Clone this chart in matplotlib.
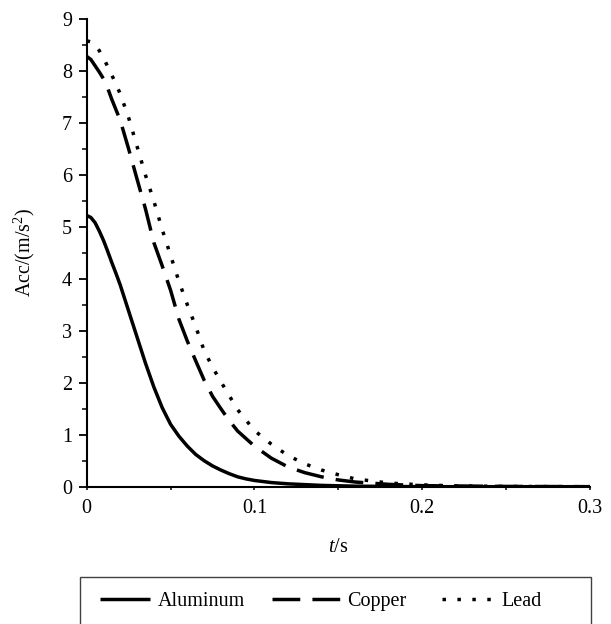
import matplotlib
matplotlib.use("Agg")
import matplotlib.pyplot as plt
from matplotlib.patches import Rectangle
from matplotlib.ticker import MultipleLocator

plt.rcParams["font.family"] = ["Liberation Serif", "DejaVu Serif"]
plt.rcParams["mathtext.fontset"] = "custom"
plt.rcParams["mathtext.rm"] = "Liberation Serif"
plt.rcParams["mathtext.it"] = "Liberation Serif:italic"

# ---- data ----
t_al = [0, 0.0025, 0.005, 0.0075, 0.01, 0.0125, 0.015, 0.0175, 0.02, 0.025,
        0.03, 0.035, 0.04, 0.045, 0.05, 0.055, 0.06, 0.065, 0.07, 0.075,
        0.08, 0.085, 0.09, 0.095, 0.1, 0.11, 0.12, 0.14, 0.16, 0.2, 0.3]
acc_al = [5.22, 5.18, 5.08, 4.92, 4.74, 4.53, 4.31, 4.1, 3.88, 3.38,
          2.88, 2.38, 1.92, 1.52, 1.2, 0.97, 0.78, 0.62, 0.5, 0.4,
          0.32, 0.25, 0.19, 0.15, 0.12, 0.08, 0.055, 0.025, 0.01, 0.0, 0.0]

t_cu = [0, 0.0025, 0.005, 0.0075, 0.01, 0.0125, 0.015, 0.02, 0.025, 0.03,
        0.035, 0.04, 0.045, 0.05, 0.055, 0.06, 0.065, 0.07, 0.075, 0.08,
        0.085, 0.09, 0.1, 0.11, 0.12, 0.13, 0.14, 0.15, 0.16, 0.18, 0.2,
        0.25, 0.3]
acc_cu = [8.28, 8.22, 8.1, 7.98, 7.85, 7.67, 7.45, 7.05, 6.5, 5.92,
          5.35, 4.7, 4.25, 3.78, 3.22, 2.8, 2.42, 2.05, 1.74, 1.5,
          1.27, 1.07, 0.78, 0.55, 0.38, 0.27, 0.19, 0.13, 0.09, 0.045, 0.02,
          0.005, 0.0]

t_pb = [0, 0.0025, 0.005, 0.0075, 0.01, 0.015, 0.02, 0.025, 0.03, 0.035,
        0.04, 0.045, 0.05, 0.055, 0.06, 0.065, 0.07, 0.075, 0.08, 0.09, 0.1,
        0.11, 0.12, 0.13, 0.14, 0.15, 0.16, 0.18, 0.2, 0.22, 0.25, 0.3]
acc_pb = [8.58, 8.56, 8.5, 8.39, 8.25, 7.92, 7.56, 7.1, 6.55, 6.0,
          5.5, 4.95, 4.45, 3.95, 3.5, 3.08, 2.62, 2.3, 2.02, 1.48, 1.08,
          0.82, 0.6, 0.44, 0.32, 0.23, 0.15, 0.07, 0.035, 0.015, 0.005, 0.0]

labels = ["Aluminum", "Copper", "Lead"]
x_ticks = [0, 0.1, 0.2, 0.3]
x_ticklabels = ["0", "0.1", "0.2", "0.3"]

W, H = 611, 624
FS = 14.5

fig = plt.figure(figsize=(W / 100, H / 100), dpi=100)
ax = fig.add_axes([86.7 / W, 1 - 486.7 / H, 503.3 / W, 467.7 / H])

lw = 2.5
styles = ["-", (0, (8, 3.5)), (0, (1, 3.3))]
lines = []
for (t, a), ls, lab in zip([(t_al, acc_al), (t_cu, acc_cu), (t_pb, acc_pb)],
                           styles, labels):
    ln, = ax.plot(t, a, color="black", lw=lw, linestyle=ls,
                  dash_capstyle="butt", solid_capstyle="butt", label=lab)
    lines.append(ln)

ax.set_xlim(0, 0.3)
ax.set_ylim(0, 9)
ax.set_xticks(x_ticks)
ax.set_xticklabels(x_ticklabels)
ax.xaxis.set_minor_locator(MultipleLocator(0.05))
ax.yaxis.set_major_locator(MultipleLocator(1))
ax.yaxis.set_minor_locator(MultipleLocator(0.5))

for s in ["top", "right"]:
    ax.spines[s].set_visible(False)
for s in ["left", "bottom"]:
    ax.spines[s].set_linewidth(1.5)

ax.tick_params(axis="y", which="major", direction="out", length=5.5, width=1.3,
               labelsize=FS, pad=5)
ax.tick_params(axis="y", which="minor", direction="out", length=3.5, width=1.1)
ax.tick_params(axis="x", which="both", direction="out", length=2.5, width=1.1,
               labelsize=FS, pad=6)

ax.set_xlabel("$t$/s", fontsize=FS, labelpad=15)
ax.set_ylabel("Acc/(m/s$^2$)", fontsize=FS, labelpad=18)

# legend: one entry per legend so each sample keeps its own length
legend_x = [100, 272, 442]
handle_len = [2.5, 3.4, 2.6]
for ln, lab, x0, hl in zip(lines, labels, legend_x, handle_len):
    fig.legend([ln], [lab], loc="center left",
               bbox_to_anchor=(x0 / W, 1 - 601 / H), fontsize=FS,
               frameon=False, handlelength=hl, handletextpad=0.35,
               borderpad=0, borderaxespad=0)

fig.add_artist(Rectangle((80 / W, -0.05), 511 / W, 0.05 + 1 - 577 / H,
                         transform=fig.transFigure, fill=False,
                         edgecolor="#404040", linewidth=1.0))

fig.savefig("out.png", dpi=100)
